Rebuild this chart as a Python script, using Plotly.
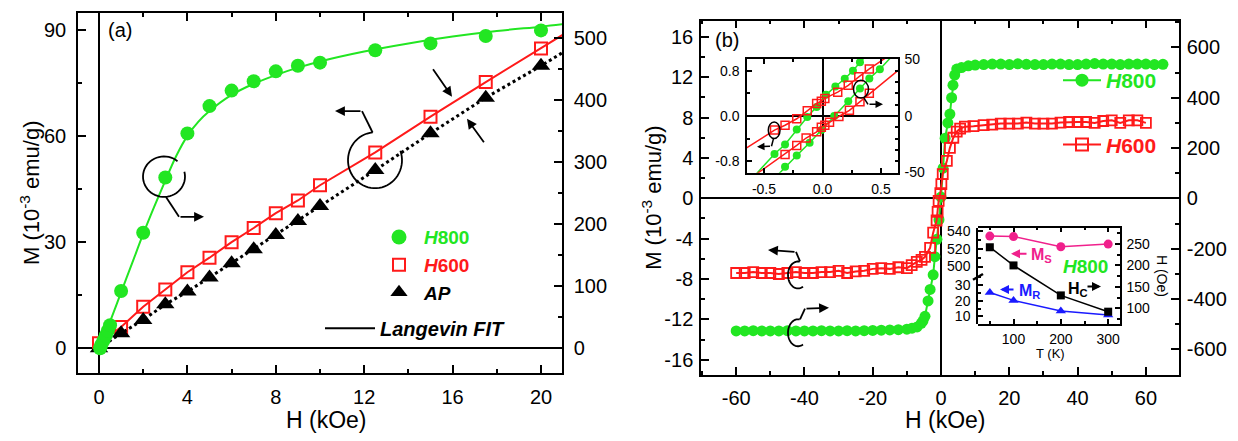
import math
import plotly.graph_objects as go

W, H = 1238, 441
def px(x): return x / W
def py(y): return 1 - y / H

GREEN = '#22e622'
RED = '#ff1a1a'
BLACK = '#000000'
PINK = '#f0208c'
BLUE = '#1a1aff'
FONT = 'Arial, Liberation Sans, sans-serif'

# ---------------- panel (a) data ----------------
a_h800_H = [0.05, 0.1, 0.2, 0.3, 0.4, 0.5, 1, 2, 3, 4, 5, 6, 7, 8, 9, 10, 12.5, 15, 17.5, 20]
a_h800_M = [0, 5, 12, 20, 28, 37, 92, 186, 275, 346, 390, 415, 430, 446, 455, 460, 480, 491, 503, 512]
a_fit_H = [0, 0.5, 1, 1.5, 2, 2.5, 3, 3.5, 4, 4.5, 5, 6, 7, 8, 9, 10, 12, 14, 16, 18, 20, 21]
a_fit_M = [0, 43, 90, 137, 184, 228, 270, 310, 342, 365, 382, 408, 426, 440, 452, 462, 478, 491, 502, 511, 518, 522]
a_h600_H = [0, 1, 2, 3, 4, 5, 6, 7, 8, 9, 10, 12.5, 15, 17.5, 20, 22.5]
a_h600_M = [1.4, 6.0, 11.7, 16.6, 21.5, 25.6, 30.0, 34.0, 38.2, 41.8, 46.1, 55.4, 65.5, 75.3, 84.8, 94.5]
a_ap_H = [0, 1, 2, 3, 4, 5, 6, 7, 8, 9, 10, 12.5, 15, 17.5, 20, 22.5]
a_ap_M = [0, 4.2, 8.0, 12.4, 16.0, 20.0, 24.0, 28.0, 32.0, 36.0, 40.2, 50.4, 60.8, 70.9, 79.9, 89.5]

# ---------------- panel (b) data ----------------
b_h800_H = [-60, -57.5, -55, -52.5, -50, -47.5, -45, -42.5, -40, -37.5, -35, -32.5, -30, -27.5, -25,
            -22.5, -20, -17.5, -15, -12.5, -10, -8.5, -7, -5.8, -5.3, -4.7, -3.8, -3.2, -2.3, -1.8,
            -1.2, -0.6, 0, 0.6, 1.2, 2.0, 2.6, 3.1, 3.5, 4.0, 4.6, 6, 8, 10,
            12.5, 15, 17.5, 20, 22.5, 25, 27.5, 30, 32.5, 35, 37.5, 40, 42.5, 45, 47.5, 50, 52.5,
            55, 57.5, 60, 62.5, 65]
b_h800_M = [-527, -527, -526, -527, -527, -527, -526, -527, -527, -527, -526, -527, -527, -526, -527,
            -526, -525, -524, -523, -522, -520, -516, -511, -497, -488, -469, -408, -362, -304, -232,
            -163, -85, 5, 120, 239, 300, 335, 400, 450, 490, 514, 520, 527, 530,
            532, 534, 534, 532, 535, 533, 532, 532, 534, 534, 532, 532, 534, 536, 534, 534, 532,
            534, 534, 534, 532, 533]
b_h600_H = [-60, -57.5, -55, -52.5, -50, -47.5, -45, -42.5, -40, -37.5, -35, -32.5, -30, -27.5, -25,
            -22.5, -20, -17.5, -15, -12.5, -10, -8.6, -7.1, -5.7, -4.7, -3.2, -2.3, -1.3, -1.0, -0.7,
            -0.2, 0.1, 0.5, 1.7, 2.6, 3.6, 4.6, 5.6, 7.0, 9.5,
            12.5, 15, 17.5, 20, 22.5, 25, 27.5, 30, 32.5, 35, 37.5, 40, 42.5, 45, 47.5, 50, 52.5,
            55, 57.5, 60]
b_h600_M = [-7.40, -7.40, -7.31, -7.40, -7.40, -7.50, -7.40, -7.31, -7.40, -7.40, -7.31, -7.31, -7.18,
            -7.40, -7.24, -7.18, -6.99, -6.92, -6.99, -6.83, -6.92, -6.61, -6.29, -6.1, -5.8, -4.9,
            -3.4, -2.2, -1.35, -0.25, 0.5, 1.4, 2.4, 3.7, 5.0, 6.0, 6.6, 6.9, 7.1, 7.15,
            7.24, 7.3, 7.4, 7.4, 7.4, 7.5, 7.4, 7.4, 7.4, 7.5, 7.56, 7.56, 7.56, 7.47, 7.66, 7.72,
            7.47, 7.72, 7.72, 7.47]

# ---------------- inset 1 (low-field loops) ----------------
i1_h600_up_H = [-0.75, -0.41, -0.32, -0.22, -0.13, -0.05, -0.01, 0.02, 0.13, 0.22, 0.31, 0.40, 0.70]
i1_h600_up_M = [-0.70, -0.25, -0.165, -0.05, 0.09, 0.22, 0.26, 0.31, 0.42, 0.54, 0.69, 0.83, 1.25]
i1_h600_dn_H = [-0.75, -0.32, -0.22, -0.14, -0.05, -0.01, 0.02, 0.06, 0.14, 0.23, 0.32, 0.40, 0.75]
i1_h600_dn_M = [-1.30, -0.68, -0.52, -0.39, -0.28, -0.20, -0.165, -0.11, -0.01, 0.10, 0.25, 0.40, 0.98]
i1_h800_up_H = [-0.75, -0.41, -0.32, -0.22, -0.13, -0.05, 0.03, 0.11, 0.19, 0.26, 0.32, 0.60]
i1_h800_up_M = [-72, -33.6, -25.2, -12, -1, 8, 18.6, 26, 32.8, 39.8, 47.4, 78]
i1_h800_dn_H = [-0.60, -0.32, -0.22, -0.11, -0.01, 0.10, 0.22, 0.32, 0.40, 0.49, 0.75]
i1_h800_dn_M = [-75, -44.9, -35, -23.7, -12.5, 0, 13, 24.3, 33, 41.3, 70]

# ---------------- inset 2 (temperature dependence) ----------------
T_K = [50, 100, 200, 300]
Ms = [534.5, 534, 522.5, 525.5]
Mr = [25.4, 20.3, 13.5, 11]
Hc = [242.6, 200, 130, 92]

# tick labels (hyphen minus as in the reference)
b_x_ticks = [-60, -40, -20, 0, 20, 40, 60]
b_yl_ticks = [-16, -12, -8, -4, 0, 4, 8, 12, 16]
b_yr_ticks = [-600, -400, -200, 0, 200, 400, 600]
i1_x_ticks = [-0.5, 0.0, 0.5]
i1_yl_ticks = [-0.8, 0.0, 0.8]
i1_yr_ticks = [-50, 0, 50]

def lab(v, fmt='%g'):
    return (fmt % v).replace('\u2212', '-')

fig = go.Figure()

def sc(**kw):
    kw.setdefault('showlegend', False)
    fig.add_trace(go.Scatter(**kw))

# panel (a)
sc(x=a_h600_H, y=a_h600_M, mode='lines+markers', xaxis='x', yaxis='y',
   line=dict(color=RED, width=2),
   marker=dict(symbol='square-open', size=12, color=RED, line=dict(width=2, color=RED)))
sc(x=a_ap_H, y=a_ap_M, mode='lines+markers', xaxis='x', yaxis='y',
   line=dict(color=BLACK, width=3, dash='dot'),
   marker=dict(symbol='triangle-up', size=16, color=BLACK))
sc(x=a_fit_H, y=a_fit_M, mode='lines', xaxis='x', yaxis='y2',
   line=dict(color=GREEN, width=2, shape='spline'))
sc(x=a_h800_H, y=a_h800_M, mode='markers', xaxis='x', yaxis='y2',
   marker=dict(symbol='circle', size=14, color=GREEN))

# panel (b) : green on right axis (base y3), red on left axis (overlay y4)
sc(x=b_h800_H, y=b_h800_M, mode='lines+markers', xaxis='x2', yaxis='y3',
   line=dict(color=GREEN, width=2), marker=dict(symbol='circle', size=11, color=GREEN))
sc(x=b_h600_H, y=b_h600_M, mode='lines+markers', xaxis='x2', yaxis='y4',
   line=dict(color=RED, width=2),
   marker=dict(symbol='square-open', size=10, color=RED, line=dict(width=1.8, color=RED)))

# inset 1 : green on right axis (base y5), red on left (overlay y6)
for hh, mm in ((i1_h800_up_H, i1_h800_up_M), (i1_h800_dn_H, i1_h800_dn_M)):
    sc(x=hh, y=mm, mode='lines+markers', xaxis='x3', yaxis='y5',
       line=dict(color=GREEN, width=1.5), marker=dict(symbol='circle', size=8, color=GREEN))
for hh, mm in ((i1_h600_up_H, i1_h600_up_M), (i1_h600_dn_H, i1_h600_dn_M)):
    sc(x=hh, y=mm, mode='lines+markers', xaxis='x3', yaxis='y6',
       line=dict(color=RED, width=1.5),
       marker=dict(symbol='square-open', size=8, color=RED, line=dict(width=1.5, color=RED)))

# inset 2
sc(x=T_K, y=Ms, mode='lines+markers', xaxis='x4', yaxis='y7',
   line=dict(color=PINK, width=1.5), marker=dict(symbol='circle', size=9, color=PINK))
sc(x=T_K, y=Mr, mode='lines+markers', xaxis='x4', yaxis='y8',
   line=dict(color=BLUE, width=1.5), marker=dict(symbol='triangle-up', size=9, color=BLUE))
sc(x=T_K, y=Hc, mode='lines+markers', xaxis='x4', yaxis='y9',
   line=dict(color=BLACK, width=1.5), marker=dict(symbol='square', size=8, color=BLACK))

# ---------------- legends (legend-only entries) ----------------
def leg(name, legend, group, **kw):
    fig.add_trace(go.Scatter(x=[None], y=[None], name=name, legend=legend, legendgroup=group,
                             showlegend=True, xaxis='x', yaxis='y', **kw))

leg('<span style="color:%s"><b><i>H</i>800</b></span>' % GREEN, 'legend', 'a1', mode='markers',
    marker=dict(symbol='circle', size=15, color=GREEN))
leg('<span style="color:%s"><b><i>H</i>600</b></span>' % RED, 'legend', 'a1', mode='markers',
    marker=dict(symbol='square-open', size=12, color=RED, line=dict(width=2, color=RED)))
leg('<b><i>AP</i></b>', 'legend', 'a1', mode='markers',
    marker=dict(symbol='triangle-up', size=15, color=BLACK))
leg('<b><i>Langevin FIT</i></b>', 'legend2', 'a2', mode='lines', line=dict(color=BLACK, width=2))
leg('<span style="color:%s"><b><i>H</i>800</b></span>' % GREEN, 'legend3', 'b1', mode='lines+markers',
    line=dict(color=GREEN, width=2), marker=dict(symbol='circle', size=13, color=GREEN))
leg('<span style="color:%s"><b><i>H</i>600</b></span>' % RED, 'legend3', 'b2', mode='lines+markers',
    line=dict(color=RED, width=2),
    marker=dict(symbol='square-open', size=12, color=RED, line=dict(width=2, color=RED)))

# ---------------- axes ----------------
def axs(fs=20, standoff=None, **kw):
    d = dict(showline=True, linecolor='black', linewidth=1.5, ticks='inside', ticklen=8, tickwidth=1.5,
             tickcolor='black', showgrid=False, zeroline=False,
             tickfont=dict(size=fs, family=FONT, color='black'))
    if standoff is not None:
        d['ticklabelstandoff'] = standoff
    d.update(kw)
    return d

def minor(dt, ln=4, t0=0):
    return dict(ticks='inside', ticklen=ln, tickwidth=1.5, tickcolor='black', tickmode='linear',
                tick0=t0, dtick=dt, showgrid=False)

def arr(vals, fmt='%g'):
    return dict(tickmode='array', tickvals=vals, ticktext=[lab(v, fmt) for v in vals])

layout = dict(
    width=W, height=H, autosize=False, margin=dict(l=0, r=0, t=0, b=0),
    paper_bgcolor='white', plot_bgcolor='rgba(0,0,0,0)',
    font=dict(family=FONT, color='black'),
    # panel (a)
    xaxis=axs(domain=[px(78), px(562)], range=[-0.95, 20.95], tick0=0, dtick=4, minor=minor(2),
              mirror='ticks', zeroline=True, zerolinecolor='black', zerolinewidth=1.5, anchor='y', standoff=5),
    yaxis=axs(domain=[py(379), py(5)], range=[-7.1, 94.9], tick0=0, dtick=30, minor=minor(15),
              zeroline=True, zerolinecolor='black', zerolinewidth=1.5, anchor='x', standoff=6),
    yaxis2=axs(overlaying='y', side='right', range=[-40.4, 540.3], tick0=0, dtick=100, minor=minor(50),
               anchor='x', standoff=6),
    # panel (b)
    xaxis2=axs(domain=[px(701), px(1179)], range=[-70.3, 69.7], minor=minor(10),
               mirror='ticks', zeroline=True, zerolinecolor='black', zerolinewidth=1.5, anchor='y3',
               standoff=4, **arr(b_x_ticks)),
    yaxis3=axs(domain=[py(381), py(13)], range=[-703, 707], side='right',
               minor=minor(100), anchor='x2', standoff=2, **arr(b_yr_ticks)),
    yaxis4=axs(overlaying='y3', side='left', range=[-17.52, 17.61], minor=minor(2),
               zeroline=True, zerolinecolor='black', zerolinewidth=1.5, anchor='x2', standoff=2,
               **arr(b_yl_ticks)),
    # inset 1
    xaxis3=axs(fs=14, domain=[px(747), px(898)], range=[-0.645, 0.645],
               minor=minor(0.25, 3), ticklen=5, mirror='ticks', zeroline=True, zerolinecolor='black',
               zerolinewidth=1.5, anchor='y5', standoff=3, **arr(i1_x_ticks, '%.1f')),
    yaxis5=axs(fs=14, domain=[py(171), py(53)], range=[-50.2, 50.2], side='right',
               minor=minor(10, 3), ticklen=5, anchor='x3', standoff=2, **arr(i1_yr_ticks)),
    yaxis6=axs(fs=14, overlaying='y5', side='left', range=[-1.004, 1.004],
               minor=minor(0.4, 3), ticklen=5, zeroline=True, zerolinecolor='black',
               zerolinewidth=1.5, anchor='x3', standoff=3, **arr(i1_yl_ticks, '%.1f')),
    # inset 2
    xaxis4=axs(fs=14, domain=[px(978), px(1120)], range=[25, 325], tick0=100, dtick=100,
               minor=minor(50, 3), ticklen=5, mirror='ticks', anchor='y9', standoff=1),
    yaxis7=axs(fs=14, domain=[py(278), py(228)], range=[489.4, 544], tick0=500, dtick=20,
               minor=minor(10, 3), ticklen=5, anchor='x4', standoff=3),
    yaxis8=axs(fs=14, domain=[py(328), py(278)], range=[5.1, 36], tick0=10, dtick=10,
               minor=minor(5, 3), ticklen=5, anchor='x4', standoff=3),
    yaxis9=axs(fs=14, domain=[py(328), py(228)], range=[63, 288], side='right', tick0=100, dtick=50,
               minor=minor(25, 3), ticklen=5, anchor='x4', standoff=2),
    legend=dict(x=px(374), y=py(218), xanchor='left', yanchor='top', bgcolor='rgba(0,0,0,0)',
                font=dict(size=19, family=FONT), itemsizing='trace', tracegroupgap=0, itemwidth=40),
    legend2=dict(x=px(320), y=py(312), xanchor='left', yanchor='top', bgcolor='rgba(0,0,0,0)',
                 font=dict(size=20, family=FONT), itemwidth=50),
    legend3=dict(x=px(1058), y=py(54), xanchor='left', yanchor='top', bgcolor='rgba(0,0,0,0)',
                 font=dict(size=21, family=FONT), itemwidth=38, tracegroupgap=34),
)
fig.update_layout(**layout)

# ---------------- text ----------------
def txt(x, y, s, size=20, color='black', angle=0, xanchor='center', yanchor='middle'):
    fig.add_annotation(x=px(x), y=py(y), xref='paper', yref='paper', text=s, showarrow=False,
                       font=dict(size=size, family=FONT, color=color), textangle=angle,
                       xanchor=xanchor, yanchor=yanchor)

txt(30, 192, 'M (10<sup>-3</sup> emu/g)', size=22, angle=-90)
txt(652, 197, 'M (10<sup>-3</sup> emu/g)', size=22, angle=-90)
txt(326, 428, 'H (kOe)', size=23)
txt(945, 428, 'H (kOe)', size=23)
txt(120, 23, '(a)', size=20)
txt(727, 33, '(b)', size=20)
txt(1050, 358, 'T (K)', size=13)
txt(1162, 278, 'H (Oe)', size=14, angle=90)
txt(1085, 268, '<b><i>H</i>800</b>', size=19, color=GREEN)
txt(1029, 257, '<b>M<sub>S</sub></b>', size=16, color=PINK, xanchor='left')
txt(1017, 294, '<b>M<sub>R</sub></b>', size=16, color=BLUE, xanchor='left')
txt(1066, 292, '<b>H<sub>C</sub></b>', size=16, color=BLACK, xanchor='left')

# ---------------- decorations ----------------
def pline(points):
    return 'M ' + ' L '.join('%.5f,%.5f' % (px(x), py(y)) for x, y in points)

def arcpts(cx, cy, rx, ry, a0, a1, n=48):
    out = []
    for i in range(n + 1):
        t = math.radians(a0 + (a1 - a0) * i / n)
        out.append((cx + rx * math.cos(t), cy - ry * math.sin(t)))
    return out

def path(points, color='black', width=1.8):
    fig.add_shape(type='path', path=pline(points), xref='paper', yref='paper',
                  line=dict(color=color, width=width))

def arrow(tail, tip, color='black', width=1.8, size=1.1):
    fig.add_annotation(x=px(tip[0]), y=py(tip[1]), xref='paper', yref='paper', text='',
                       showarrow=True, ax=tail[0] - tip[0], ay=tail[1] - tip[1],
                       arrowhead=2, arrowsize=size, arrowwidth=width, arrowcolor=color)

def ellipse(x0, y0, x1, y1, width=1.5):
    fig.add_shape(type='circle', xref='paper', yref='paper', x0=px(x0), x1=px(x1),
                  y0=py(y1), y1=py(y0), line=dict(color='black', width=width))

# panel (a) circle on green -> right axis
path(arcpts(164, 175, 21, 21, 50, 374))
path([(166, 196), (179, 216.7)])
arrow((179, 216.7), (204, 216.7))
# panel (a) circle on red/black -> left axis
path(arcpts(375, 158, 27, 29, 95, 380))
path([(372.6, 129.2), (362, 107)])
arrow((362, 107), (335, 107))
# arrows pointing at the gap
arrow((432, 63), (452, 92))
arrow((485, 140), (467, 115))

# panel (b) curls
path(arcpts(798, 277, 10, 14, 80, 300))
path([(800, 263), (796, 253)])
arrow((796, 253), (768, 251))
path(arcpts(798, 337, 10, 14, 80, 300))
path([(800, 323), (805, 312)])
arrow((805, 312), (829, 311))

# inset 1 ellipses
ellipse(768.3, 118.3, 780, 135.5)
path([(773.5, 135.5), (771.5, 143.5)], width=1.5)
arrow((771.5, 143.5), (757, 144), width=1.5, size=1.0)
ellipse(853.5, 75, 868.5, 93.5)
path([(864, 93.5), (868, 100)], width=1.5)
arrow((868, 100), (883, 100), width=1.5, size=1.0)

# inset 2 arrows and axis break
arrow((1028, 255), (1011, 255), color=PINK, width=2, size=0.9)
arrow((1015, 292), (1000, 292), color=BLUE, width=2, size=0.9)
arrow((1086, 289), (1101, 289), color=BLACK, width=2, size=0.9)
fig.add_shape(type='line', xref='paper', yref='paper', x0=px(973), y0=py(282), x1=px(983), y1=py(276),
              line=dict(color='black', width=2.5))

fig.write_html('out.html')
